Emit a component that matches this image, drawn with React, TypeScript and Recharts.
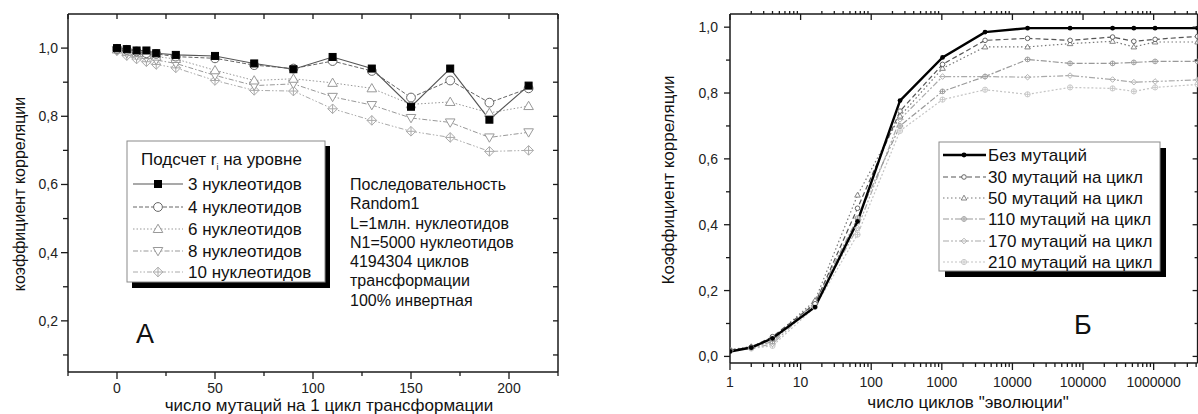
import React from 'react';
import { LineChart, Line, XAxis, YAxis } from 'recharts';

// ---------- Panel A data ----------
const MUTATIONS = [0, 5, 10, 15, 20, 30, 50, 70, 90, 110, 130, 150, 170, 190, 210];
const NUC3 = [1.0, 0.997, 0.993, 0.993, 0.985, 0.98, 0.977, 0.955, 0.938, 0.974, 0.94, 0.828, 0.94, 0.79, 0.89];
const NUC4 = [0.998, 0.995, 0.99, 0.985, 0.983, 0.975, 0.97, 0.95, 0.94, 0.962, 0.933, 0.855, 0.905, 0.84, 0.882];
const NUC6 = [0.996, 0.99, 0.985, 0.98, 0.975, 0.968, 0.935, 0.905, 0.91, 0.898, 0.882, 0.835, 0.842, 0.81, 0.83];
const NUC8 = [0.994, 0.985, 0.978, 0.972, 0.965, 0.955, 0.92, 0.89, 0.895, 0.857, 0.833, 0.795, 0.782, 0.738, 0.753];
const NUC10 = [0.992, 0.978, 0.968, 0.96, 0.952, 0.942, 0.905, 0.876, 0.874, 0.822, 0.788, 0.756, 0.738, 0.697, 0.7];
const A_X_TICKS = [-25, 0, 25, 50, 75, 100, 125, 150, 175, 200, 225];
const A_Y_TICKS = [0.1, 0.2, 0.3, 0.4, 0.5, 0.6, 0.7, 0.8, 0.9, 1.0];
const A_LEGEND = ['3 нуклеотидов', '4 нуклеотидов', '6 нуклеотидов', '8 нуклеотидов', '10 нуклеотидов'];
const A_NOTE = ['Последовательность', 'Random1', 'L=1млн. нуклеотидов', 'N1=5000 нуклеотидов', '4194304 циклов', 'трансформации', '100% инвертная'];

// ---------- Panel Б data ----------
const CYCLES = [1, 2, 4, 16, 64, 256, 1024, 4096, 16384, 65536, 262144, 524288, 1048576, 4194304];
const MUT0 = [0.015, 0.027, 0.055, 0.15, 0.41, 0.777, 0.908, 0.985, 0.997, 0.997, 0.997, 0.997, 0.997, 0.997];
const MUT30 = [0.018, 0.028, 0.06, 0.16, 0.45, 0.745, 0.887, 0.96, 0.966, 0.96, 0.97, 0.957, 0.963, 0.972];
const MUT50 = [0.02, 0.03, 0.055, 0.17, 0.49, 0.73, 0.875, 0.94, 0.94, 0.95, 0.957, 0.94, 0.955, 0.955];
const MUT110 = [0.02, 0.027, 0.045, 0.165, 0.42, 0.7, 0.805, 0.85, 0.902, 0.89, 0.89, 0.893, 0.896, 0.896];
const MUT170 = [0.018, 0.025, 0.038, 0.16, 0.39, 0.72, 0.85, 0.85, 0.848, 0.853, 0.841, 0.833, 0.835, 0.84];
const MUT210 = [0.017, 0.024, 0.032, 0.15, 0.37, 0.685, 0.78, 0.81, 0.796, 0.817, 0.814, 0.805, 0.817, 0.826];
const B_DECADES = [1, 10, 100, 1000, 10000, 100000, 1000000];
const B_MULT = [1, 2, 3, 4, 5, 6, 7, 8, 9];
const B_X_TICKS = B_DECADES.flatMap((d) => B_MULT.map((m) => m * d)).filter((v) => v <= 4194304);
const B_Y_TICKS = [0, 0.1, 0.2, 0.3, 0.4, 0.5, 0.6, 0.7, 0.8, 0.9, 1.0];
const B_LEGEND = ['Без мутаций', '30 мутаций на цикл', '50 мутаций на цикл', '110 мутаций на цикл', '170 мутаций на цикл', '210 мутаций на цикл'];

const FONT = "'Liberation Sans', Arial, sans-serif";

const dataA = MUTATIONS.map((x, i) => ({ x, n3: NUC3[i], n4: NUC4[i], n6: NUC6[i], n8: NUC8[i], n10: NUC10[i] }));
const dataB = CYCLES.map((x, i) => ({ x, m0: MUT0[i], m30: MUT30[i], m50: MUT50[i], m110: MUT110[i], m170: MUT170[i], m210: MUT210[i] }));

// ---------- markers ----------
type MK = 'square' | 'circle' | 'tri' | 'dtri' | 'diaplus' | 'dot' | 'scircle' | 'stri' | 'splus' | 'sdia' | 'scplus';
function Marker({ kind, cx, cy, color }: { kind: MK; cx: number; cy: number; color: string }) {
  if (cx == null || cy == null) return null;
  switch (kind) {
    case 'square':
      return <rect x={cx - 3.5} y={cy - 3.5} width={7} height={7} fill="#000" stroke="#000" />;
    case 'circle':
      return <circle cx={cx} cy={cy} r={4.4} fill="#fff" stroke={color} strokeWidth={1} />;
    case 'tri':
      return <path d={`M${cx},${cy - 4.8} L${cx + 4.8},${cy + 3.5} L${cx - 4.8},${cy + 3.5} Z`} fill="#fff" stroke={color} strokeWidth={1} />;
    case 'dtri':
      return <path d={`M${cx},${cy + 4.8} L${cx + 4.8},${cy - 3.5} L${cx - 4.8},${cy - 3.5} Z`} fill="#fff" stroke={color} strokeWidth={1} />;
    case 'diaplus':
      return (
        <g>
          <path d={`M${cx},${cy - 4.8} L${cx + 4.8},${cy} L${cx},${cy + 4.8} L${cx - 4.8},${cy} Z`} fill="#fff" stroke={color} strokeWidth={1} />
          <path d={`M${cx},${cy - 4.8} L${cx},${cy + 4.8} M${cx - 4.8},${cy} L${cx + 4.8},${cy}`} stroke={color} strokeWidth={1} />
        </g>
      );
    case 'dot':
      return <circle cx={cx} cy={cy} r={2.4} fill="#000" />;
    case 'scircle':
      return <circle cx={cx} cy={cy} r={2.3} fill="#fff" stroke={color} strokeWidth={0.9} />;
    case 'stri':
      return <path d={`M${cx},${cy - 2.8} L${cx + 2.8},${cy + 2} L${cx - 2.8},${cy + 2} Z`} fill="#fff" stroke={color} strokeWidth={0.9} />;
    case 'splus':
      return (
        <g>
          <circle cx={cx} cy={cy} r={2.4} fill="#fff" stroke={color} strokeWidth={0.9} />
          <path d={`M${cx - 3.2},${cy} L${cx + 3.2},${cy} M${cx},${cy - 2.4} L${cx},${cy + 2.4}`} stroke={color} strokeWidth={0.9} />
        </g>
      );
    case 'sdia':
      return (
        <g>
          <path d={`M${cx},${cy - 2.8} L${cx + 2.8},${cy} L${cx},${cy + 2.8} L${cx - 2.8},${cy} Z`} fill="#fff" stroke={color} strokeWidth={0.9} />
          <path d={`M${cx - 3.4},${cy} L${cx + 3.4},${cy}`} stroke={color} strokeWidth={0.9} />
        </g>
      );
    case 'scplus':
      return (
        <g>
          <circle cx={cx} cy={cy} r={2.6} fill="#fff" stroke={color} strokeWidth={0.9} />
          <path d={`M${cx - 2.6},${cy} L${cx + 2.6},${cy} M${cx},${cy - 2.6} L${cx},${cy + 2.6}`} stroke={color} strokeWidth={0.9} />
        </g>
      );
  }
  return null;
}

type SeriesDef = { key: string; color: string; width: number; dash?: string; marker: MK };
const A_SERIES: SeriesDef[] = [
  { key: 'n3', color: '#555', width: 1.1, marker: 'square' },
  { key: 'n4', color: '#666', width: 1, dash: '4 2', marker: 'circle' },
  { key: 'n6', color: '#999', width: 1, dash: '1.5 2', marker: 'tri' },
  { key: 'n8', color: '#999', width: 1, dash: '5 2 1.5 2', marker: 'dtri' },
  { key: 'n10', color: '#aaa', width: 1, dash: '5 2 1.5 2 1.5 2', marker: 'diaplus' },
];
const B_SERIES: SeriesDef[] = [
  { key: 'm0', color: '#000', width: 2.4, marker: 'dot' },
  { key: 'm30', color: '#555', width: 1.2, dash: '5 3', marker: 'scircle' },
  { key: 'm50', color: '#777', width: 1.2, dash: '1.5 2.5', marker: 'stri' },
  { key: 'm110', color: '#999', width: 1.2, dash: '6 2 2 2', marker: 'splus' },
  { key: 'm170', color: '#aaa', width: 1.2, dash: '6 2 2 2 2 2', marker: 'sdia' },
  { key: 'm210', color: '#c4c4c4', width: 1.2, dash: '2 2', marker: 'scplus' },
];

// ---------- tick renderer ----------
type TickOpts = {
  side: 'bottom' | 'top' | 'left' | 'right';
  isMajor: (v: number) => boolean;
  majorLen: number;
  minorLen: number;
  majorOut: boolean;
  minorOut: boolean;
  format?: (v: number) => string;
  labelOffset?: number;
  fontSize?: number;
};
function makeTick(o: TickOpts) {
  return function Tick(props: any) {
    const { x, y, payload } = props;
    const v = payload.value as number;
    const maj = o.isMajor(v);
    const len = maj ? o.majorLen : o.minorLen;
    const s = (maj ? o.majorOut : o.minorOut) ? 1 : -1;
    let x2 = x;
    let y2 = y;
    if (o.side === 'bottom') y2 = y + s * len;
    if (o.side === 'top') y2 = y - s * len;
    if (o.side === 'left') x2 = x - s * len;
    if (o.side === 'right') x2 = x + s * len;
    const text = maj && o.format ? o.format(v) : null;
    return (
      <g>
        <line x1={x} y1={y} x2={x2} y2={y2} stroke="#1a1a1a" strokeWidth={1.3} />
        {text !== null && o.side === 'bottom' && (
          <text x={x} y={y + (o.labelOffset || 0)} textAnchor="middle" fontSize={o.fontSize} fill="#222" fontFamily={FONT}>
            {text}
          </text>
        )}
        {text !== null && o.side === 'left' && (
          <text x={x - (o.labelOffset || 0)} y={y + 5} textAnchor="end" fontSize={o.fontSize} fill="#222" fontFamily={FONT}>
            {text}
          </text>
        )}
      </g>
    );
  };
}

const near = (a: number, b: number) => Math.abs(a - b) < 1e-6;
const commaFmt = (v: number) => v.toFixed(1).replace('.', ',');
const isLogMajor = (v: number) => near(Math.log10(v), Math.round(Math.log10(v)));
const isEvenTenth = (v: number) => Math.round(v * 10) % 2 === 0;

const tickA_bottom = makeTick({ side: 'bottom', isMajor: (v) => v >= 0 && v <= 200 && near(v % 50, 0), majorLen: 7, minorLen: 4, majorOut: true, minorOut: true, format: (v) => String(v), labelOffset: 21, fontSize: 14 });
const tickA_top = makeTick({ side: 'top', isMajor: () => true, majorLen: 5, minorLen: 5, majorOut: false, minorOut: false });
const tickA_left = makeTick({ side: 'left', isMajor: isEvenTenth, majorLen: 7, minorLen: 5, majorOut: true, minorOut: true, format: commaFmt, labelOffset: 10, fontSize: 14 });
const tickA_right = makeTick({ side: 'right', isMajor: () => true, majorLen: 5, minorLen: 5, majorOut: false, minorOut: false });

const tickB_bottom = makeTick({ side: 'bottom', isMajor: isLogMajor, majorLen: 7, minorLen: 4, majorOut: true, minorOut: true, format: (v) => String(v), labelOffset: 24, fontSize: 14 });
const tickB_top = makeTick({ side: 'top', isMajor: isLogMajor, majorLen: 6, minorLen: 3, majorOut: false, minorOut: true });
const tickB_left = makeTick({ side: 'left', isMajor: isEvenTenth, majorLen: 6, minorLen: 4, majorOut: true, minorOut: true, format: commaFmt, labelOffset: 12, fontSize: 14 });
const tickB_right = makeTick({ side: 'right', isMajor: isEvenTenth, majorLen: 5, minorLen: 3, majorOut: false, minorOut: false });

const axisLine = { stroke: '#1a1a1a', strokeWidth: 1.5 };

function LegendA() {
  const rowY = [184, 207, 229, 251, 272];
  return (
    <svg width={340} height={300} style={{ position: 'absolute', left: 0, top: 0, overflow: 'visible' }}>
      <rect x={132} y={146} width={198} height={142} fill="#000" />
      <rect x={127} y={141} width={198} height={141} fill="#fff" stroke="#8a8a8a" strokeWidth={1} />
      <text x={141} y={165} fontSize={17} fontFamily={FONT} fill="#111">
        Подсчет r<tspan fontSize={9} dy={5}>i</tspan>
        <tspan dy={-5}> на уровне</tspan>
      </text>
      {A_SERIES.map((s, i) => (
        <g key={s.key}>
          <line x1={133} x2={183} y1={rowY[i]} y2={rowY[i]} stroke={s.color} strokeWidth={s.width} strokeDasharray={s.dash} />
          <Marker kind={s.marker} cx={158} cy={rowY[i]} color={s.color} />
          <text x={188} y={rowY[i] + 6} fontSize={17} fontFamily={FONT} fill="#111">
            {A_LEGEND[i]}
          </text>
        </g>
      ))}
    </svg>
  );
}

function LegendB() {
  const rowY = [155, 177, 198, 219, 241, 262];
  return (
    <svg width={1198} height={300} style={{ position: 'absolute', left: 0, top: 0, overflow: 'visible' }}>
      <rect x={945} y={148} width={221} height={129} fill="#000" />
      <rect x={939} y={142} width={221} height={129} fill="#fff" stroke="#8a8a8a" strokeWidth={1} />
      {B_SERIES.map((s, i) => (
        <g key={s.key}>
          <line x1={943} x2={986} y1={rowY[i]} y2={rowY[i]} stroke={s.color} strokeWidth={s.width} strokeDasharray={s.dash} />
          <Marker kind={s.marker} cx={964} cy={rowY[i]} color={s.color} />
          <text x={988} y={rowY[i] + 6} fontSize={17} fontFamily={FONT} fill="#111">
            {B_LEGEND[i]}
          </text>
        </g>
      ))}
    </svg>
  );
}

const textStyle: React.CSSProperties = { position: 'absolute', fontFamily: FONT, color: '#111', whiteSpace: 'nowrap', lineHeight: 1 };

export default function App() {
  return (
    <div style={{ position: 'absolute', left: 0, top: 0, width: 1198, height: 414, overflow: 'hidden', background: '#fff', fontFamily: FONT }}>
      {/* Panel A */}
      <div style={{ position: 'absolute', left: 0, top: 0 }}>
        <LineChart width={600} height={414} data={dataA} margin={{ top: 13, left: 67, right: 41, bottom: 41 }}>
          <XAxis xAxisId="b" dataKey="x" type="number" domain={[-25, 225]} ticks={A_X_TICKS} interval={0} allowDataOverflow height={1} tickSize={0} tickMargin={0} axisLine={axisLine} tickLine={false} tick={tickA_bottom} />
          <XAxis xAxisId="t" orientation="top" dataKey="x" type="number" domain={[-25, 225]} ticks={A_X_TICKS} interval={0} allowDataOverflow height={1} tickSize={0} tickMargin={0} axisLine={axisLine} tickLine={false} tick={tickA_top} />
          <YAxis yAxisId="l" type="number" domain={[0.05, 1.1]} ticks={A_Y_TICKS} interval={0} allowDataOverflow width={1} tickSize={0} tickMargin={0} axisLine={axisLine} tickLine={false} tick={tickA_left} />
          <YAxis yAxisId="r" orientation="right" type="number" domain={[0.05, 1.1]} ticks={A_Y_TICKS} interval={0} allowDataOverflow width={1} tickSize={0} tickMargin={0} axisLine={axisLine} tickLine={false} tick={tickA_right} />
          {[...A_SERIES].reverse().map((s) => (
            <Line
              key={s.key}
              xAxisId="b"
              yAxisId="l"
              dataKey={s.key}
              stroke={s.color}
              strokeWidth={s.width}
              strokeDasharray={s.dash}
              isAnimationActive={false}
              activeDot={false}
              dot={(p: any) => <Marker key={`${s.key}-${p.index}`} kind={s.marker} cx={p.cx} cy={p.cy} color={s.color} />}
            />
          ))}
        </LineChart>
      </div>
      <LegendA />
      <div style={{ ...textStyle, left: 350, top: 175, fontSize: 16, lineHeight: '19.3px' }}>
        {A_NOTE.map((t) => (
          <div key={t}>{t}</div>
        ))}
      </div>
      <div style={{ ...textStyle, left: 136, top: 321, fontSize: 27 }}>А</div>
      <div style={{ ...textStyle, left: 329, top: 397, fontSize: 17, transform: 'translateX(-50%)' }}>число мутаций на 1 цикл трансформации</div>
      <div style={{ ...textStyle, left: 20, top: 194, fontSize: 16, transform: 'translate(-50%, -50%) rotate(-90deg)' }}>коэффициент корреляции</div>

      {/* Panel Б */}
      <div style={{ position: 'absolute', left: 600, top: 0 }}>
        <LineChart width={600} height={414} data={dataB} margin={{ top: 13, left: 129, right: 1.4, bottom: 50 }}>
          <XAxis xAxisId="b" dataKey="x" type="number" scale="log" domain={[1, 4194304]} ticks={B_X_TICKS} interval={0} allowDataOverflow height={1} tickSize={0} tickMargin={0} axisLine={axisLine} tickLine={false} tick={tickB_bottom} />
          <XAxis xAxisId="t" orientation="top" dataKey="x" type="number" scale="log" domain={[1, 4194304]} ticks={B_X_TICKS} interval={0} allowDataOverflow height={1} tickSize={0} tickMargin={0} axisLine={axisLine} tickLine={false} tick={tickB_top} />
          <YAxis yAxisId="l" type="number" domain={[-0.02, 1.04]} ticks={B_Y_TICKS} interval={0} allowDataOverflow width={1} tickSize={0} tickMargin={0} axisLine={axisLine} tickLine={false} tick={tickB_left} />
          <YAxis yAxisId="r" orientation="right" type="number" domain={[-0.02, 1.04]} ticks={B_Y_TICKS} interval={0} allowDataOverflow width={1} tickSize={0} tickMargin={0} axisLine={axisLine} tickLine={false} tick={tickB_right} />
          {[...B_SERIES].reverse().map((s) => (
            <Line
              key={s.key}
              xAxisId="b"
              yAxisId="l"
              dataKey={s.key}
              stroke={s.color}
              strokeWidth={s.width}
              strokeDasharray={s.dash}
              isAnimationActive={false}
              activeDot={false}
              dot={(p: any) => <Marker key={`${s.key}-${p.index}`} kind={s.marker} cx={p.cx} cy={p.cy} color={s.color} />}
            />
          ))}
        </LineChart>
      </div>
      <LegendB />
      <div style={{ ...textStyle, left: 1074, top: 312, fontSize: 27 }}>Б</div>
      <div style={{ ...textStyle, left: 968, top: 394, fontSize: 17, transform: 'translateX(-50%)' }}>число циклов "эволюции"</div>
      <div style={{ ...textStyle, left: 668, top: 180, fontSize: 17, transform: 'translate(-50%, -50%) rotate(-90deg)' }}>Коэффициент корреляции</div>
    </div>
  );
}
